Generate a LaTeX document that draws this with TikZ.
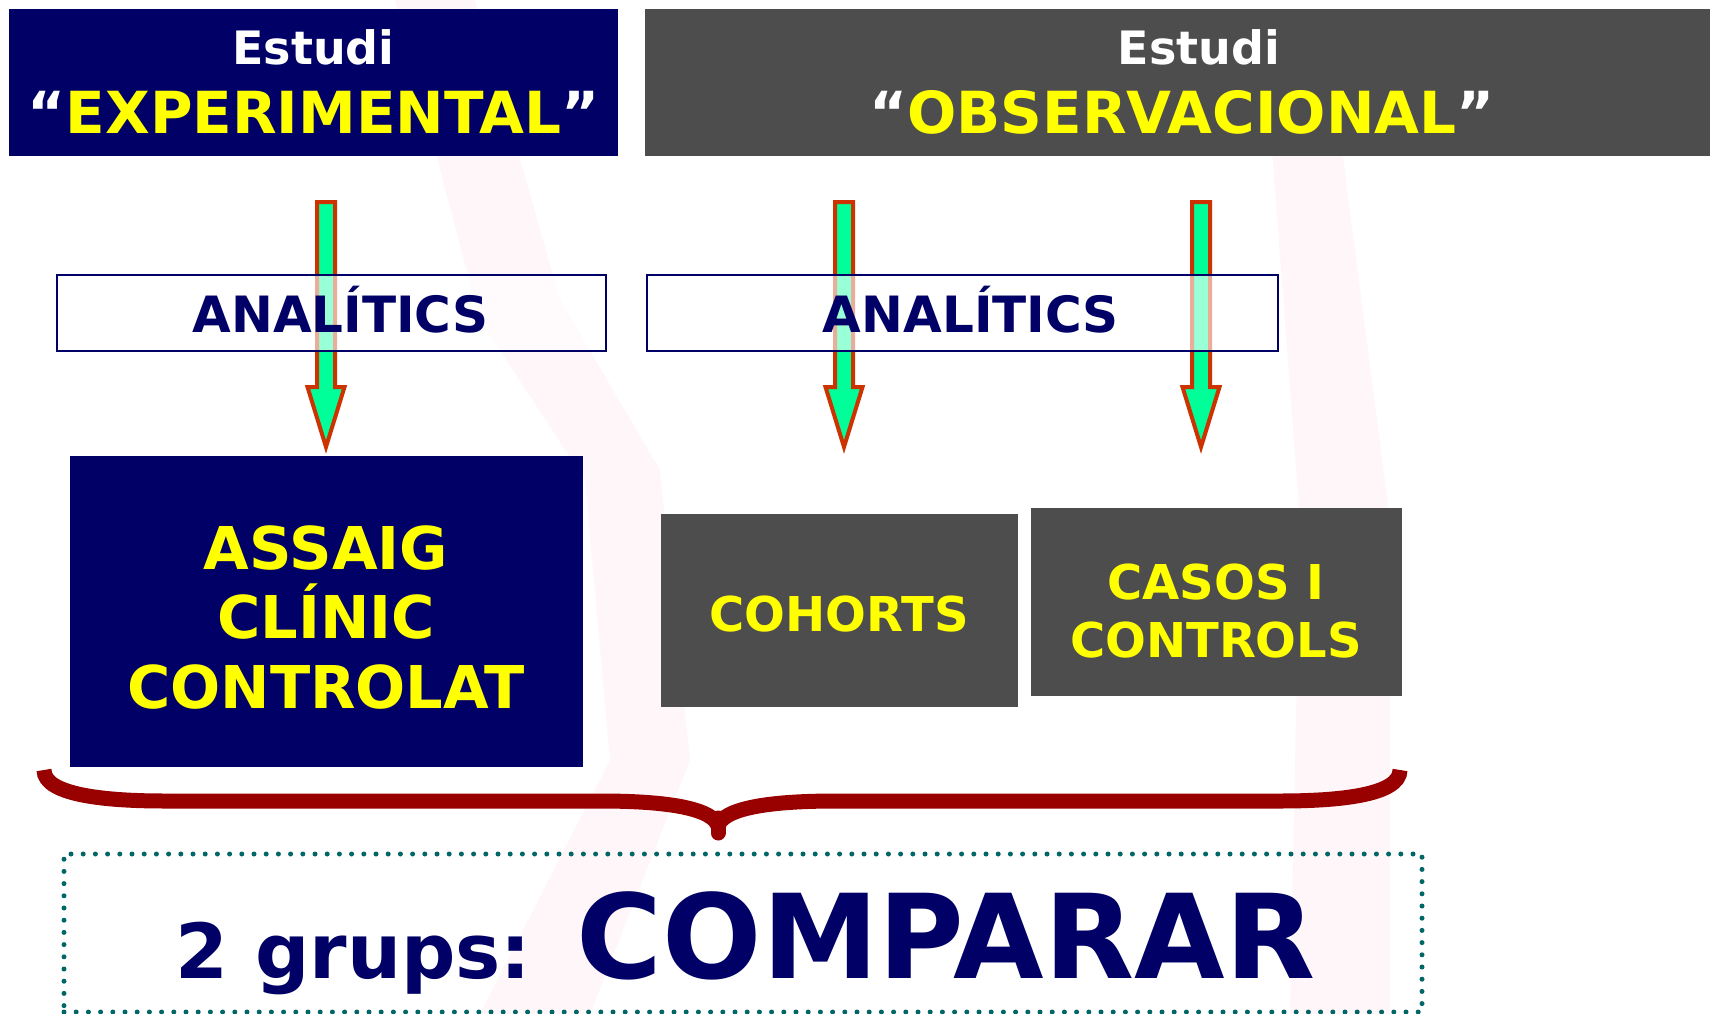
\documentclass[tikz,border=0pt]{standalone}
\usepackage{fontspec}
\setmainfont{DejaVu Sans}
\definecolor{navy}{HTML}{000066}
\definecolor{slate}{HTML}{4D4D4D}
\definecolor{lemon}{HTML}{FFFF00}
\definecolor{mint}{HTML}{00FF99}
\definecolor{rust}{HTML}{CC3300}
\definecolor{maroon}{HTML}{990000}
\definecolor{teal}{HTML}{006666}
\definecolor{blush}{HTML}{FFF6FA}
\newcommand{\fsz}[2]{\fontsize{#1}{#2}\selectfont\bfseries}
\tikzset{
  panel/.style={inner sep=0pt, outer sep=0pt, anchor=north west},
  darkpanel/.style={panel, fill=navy},
  greypanel/.style={panel, fill=slate},
  tagbox/.style={panel, draw=navy, line width=2.5pt, fill=white, fill opacity=0.6},
  txt/.style={inner sep=0pt, outer sep=0pt, anchor=base},
  flow/.style={draw=rust, fill=mint, line width=4pt, line join=miter},
  brace/.style={draw=maroon, line width=15pt, line cap=butt},
  dots/.style={draw=teal, line width=5pt, line cap=round, dash pattern=on 0pt off 12.2pt},
  dnarrow/.pic={
    \path[flow] (-9,0) -- (9,0) -- (9,185) -- (18.5,185) -- (0,245)
      -- (-18.5,185) -- (-9,185) -- cycle;
  }
}
\begin{document}
\begin{tikzpicture}[x=1pt,y=-1pt]
\useasboundingbox (0,0) rectangle (1710,1014);
\fill[white] (0,0) rectangle (1710,1014);

% faint watermark strokes in the background
\fill[blush] (395,0) -- (475,0) -- (560,300) -- (660,470) -- (690,760)
  -- (610,760) -- (585,480) -- (480,320) -- cycle;
\fill[blush] (610,760) -- (690,760) -- (590,1014) -- (480,1014) -- cycle;
\fill[blush] (1272,150) -- (1342,150) -- (1390,520) -- (1390,1014)
  -- (1290,1014) -- (1300,520) -- cycle;

% header panels
\node[darkpanel, minimum width=609pt, minimum height=147pt] (hexp) at (9,9) {};
\node[greypanel, minimum width=1065pt, minimum height=147pt] (hobs) at (645,9) {};
\node[txt, text=white, font=\fsz{46}{55}] (hexp1) at (313.5,65) {Estudi};
\node[txt, font=\fsz{58}{70}] (hexp2) at (313.5,134)
  {\textcolor{white}{“}\textcolor{lemon}{EXPERIMENTAL}\textcolor{white}{”}};
\node[txt, text=white, font=\fsz{46}{55}] (hobs1) at (1199,65) {Estudi};
\node[txt, font=\fsz{58}{70}] (hobs2) at (1182,134)
  {\textcolor{white}{“}\textcolor{lemon}{OBSERVACIONAL}\textcolor{white}{”}};

% downward arrows
\coordinate (a1) at (326,202);
\coordinate (a2) at (844,202);
\coordinate (a3) at (1201,202);
\pic at (a1) {dnarrow};
\pic at (a2) {dnarrow};
\pic at (a3) {dnarrow};

% "ANALÍTICS" tags laid over the arrows
\node[tagbox, minimum width=549pt, minimum height=76pt] (tagL) at (57,275) {};
\node[tagbox, minimum width=631pt, minimum height=76pt] (tagR) at (647,275) {};
\node[txt, text=navy, font=\fsz{50}{60}] (tagLt) at (340.5,332) {ANALÍTICS};
\node[txt, text=navy, font=\fsz{50}{60}] (tagRt) at (971,332) {ANALÍTICS};

% study design boxes
\node[darkpanel, minimum width=513pt, minimum height=311pt] (assaig) at (70,456) {};
\node[greypanel, minimum width=357pt, minimum height=193pt] (cohorts) at (661,514) {};
\node[greypanel, minimum width=371pt, minimum height=188pt] (casos) at (1031,508) {};
\node[inner sep=0pt, align=center, text=lemon, font=\fsz{59}{69.6}] (assaigt) at (326,617.5)
  {ASSAIG\\CLÍNIC\\CONTROLAT};
\node[txt, text=lemon, font=\fsz{48}{58}] (cohortst) at (839,631) {COHORTS};
\node[inner sep=0pt, align=center, text=lemon, font=\fsz{48}{58}] (casost) at (1216,611)
  {CASOS I\\CONTROLS};

% grouping brace
\coordinate (bL) at (44,770);
\coordinate (bM) at (718,826);
\coordinate (bR) at (1400,770);
\draw[brace] (bL) .. controls (44,796) and (110,801) .. (165,801) -- (600,801)
  .. controls (675,801) and (713,810) .. (bM);
\draw[brace] (bM) .. controls (723,810) and (761,801) .. (836,801) -- (1280,801)
  .. controls (1335,801) and (1400,796) .. (bR);
\draw[maroon, line width=15pt, line cap=round] (718,818) -- (718,833);

% conclusion box
\node[panel, dots, minimum width=1358pt, minimum height=158pt] (cmpbox) at (64,854) {};
\node[txt, text=navy, font=\fsz{76}{91}] (grups) at (353.5,978) {2 grups:};
\node[txt, text=navy, font=\fsz{117}{140}] (comparar) at (946,978) {COMPARAR};
\end{tikzpicture}
\end{document}
